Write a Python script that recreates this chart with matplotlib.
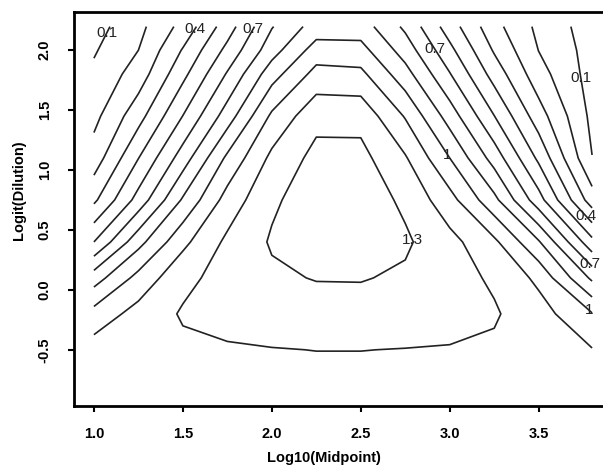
import matplotlib.pyplot as plt
import numpy as np

# grid
log_mid = [1.0, 1.25, 1.5, 1.75, 2.0, 2.25, 2.5, 2.75, 3.0, 3.25, 3.5, 3.8]
logit_dil = [-0.847, -0.5, -0.2, 0.1, 0.4, 0.75, 1.1, 1.45, 1.8, 2.0, 2.197]

# one row per logit(dilution) value, bottom to top
row_m085 = [1.15, 1.15, 1.16, 1.165, 1.17, 1.17, 1.17, 1.17, 1.165, 1.16, 1.15, 1.12]
row_m050 = [1.145, 1.15, 1.18, 1.19, 1.197, 1.201, 1.201, 1.198, 1.195, 1.185, 1.16, 1.105]
row_m020 = [1.038, 1.137, 1.21, 1.233, 1.242, 1.254, 1.257, 1.243, 1.23, 1.21, 1.143, 1.006]
row_p010 = [0.853, 1.033, 1.174, 1.237, 1.283, 1.305, 1.306, 1.285, 1.237, 1.186, 1.077, 0.78]
row_p040 = [0.6, 0.866, 1.075, 1.221, 1.31, 1.36, 1.37, 1.315, 1.232, 1.121, 0.91, 0.53]
row_p075 = [0.38, 0.638, 0.913, 1.14, 1.285, 1.35, 1.355, 1.281, 1.137, 0.928, 0.64, 0.247]
row_p110 = [0.245, 0.498, 0.749, 1.021, 1.224, 1.33, 1.33, 1.21, 1.0, 0.758, 0.479, 0.102]
row_p145 = [0.171, 0.362, 0.602, 0.849, 1.119, 1.27, 1.268, 1.092, 0.855, 0.602, 0.345, 0.075]
row_p180 = [0.12, 0.246, 0.473, 0.71, 0.958, 1.135, 1.125, 0.939, 0.706, 0.459, 0.24, 0.06]
row_p200 = [0.09, 0.20, 0.408, 0.628, 0.858, 1.045, 1.035, 0.855, 0.627, 0.389, 0.198, 0.06]
row_p220 = [0.06, 0.171, 0.333, 0.553, 0.794, 0.945, 0.95, 0.78, 0.55, 0.333, 0.176, 0.05]

levels = [0.1, 0.2, 0.3, 0.4, 0.5, 0.6, 0.7, 0.8, 0.9, 1.0, 1.1, 1.2, 1.3]

# where the labels sit
label_spots = [(1.07, 2.15), (1.58, 2.17), (1.9, 2.17), (2.91, 2.0), (3.76, 1.77),
               (3.0, 1.14), (2.79, 0.42), (3.78, 0.63), (3.78, 0.21), (3.78, -0.17)]

z = np.array([row_m085, row_m050, row_m020, row_p010, row_p040, row_p075,
              row_p110, row_p145, row_p180, row_p200, row_p220])

plt.rcParams['font.family'] = ['Liberation Sans', 'DejaVu Sans']

fig = plt.figure(figsize=(6.03, 4.75), dpi=100)
ax = fig.add_axes([74 / 603, 69 / 475, 538 / 603, 394 / 475])

cs = ax.contour(log_mid, logit_dil, z, levels=levels, colors='#222222', linewidths=1.2)
labs = ax.clabel(cs, inline=False, fontsize=11, fmt=lambda v: f'{v:g}', manual=label_spots)
for t in labs:
    t.set_rotation(0)

ax.set_xlim(0.888, 3.912)
ax.set_ylim(-0.969, 2.319)
ax.set_xticks([1.0, 1.5, 2.0, 2.5, 3.0, 3.5])
ax.set_xticklabels(['1.0', '1.5', '2.0', '2.5', '3.0', '3.5'], fontweight='bold', fontsize=10.5)
ax.set_yticks([-0.5, 0.0, 0.5, 1.0, 1.5, 2.0])
ax.set_yticklabels(['-0.5', '0.0', '0.5', '1.0', '1.5', '2.0'], fontweight='bold', fontsize=10.5,
                   rotation=90, va='center')
ax.tick_params(direction='out', length=4, width=1.5)
ax.tick_params(axis='x', pad=11)
ax.tick_params(axis='y', pad=12)
for s in ax.spines.values():
    s.set_linewidth(2)

fig.text(324 / 603, 1 - 458 / 475, 'Log10(Midpoint)', fontsize=10.5, fontweight='bold',
         ha='center', va='center')
fig.text(19 / 603, 1 - 190 / 475, 'Logit(Dilution)', fontsize=10.5, fontweight='bold',
         ha='center', va='center', rotation=90)

fig.savefig('out.png', dpi=100)
